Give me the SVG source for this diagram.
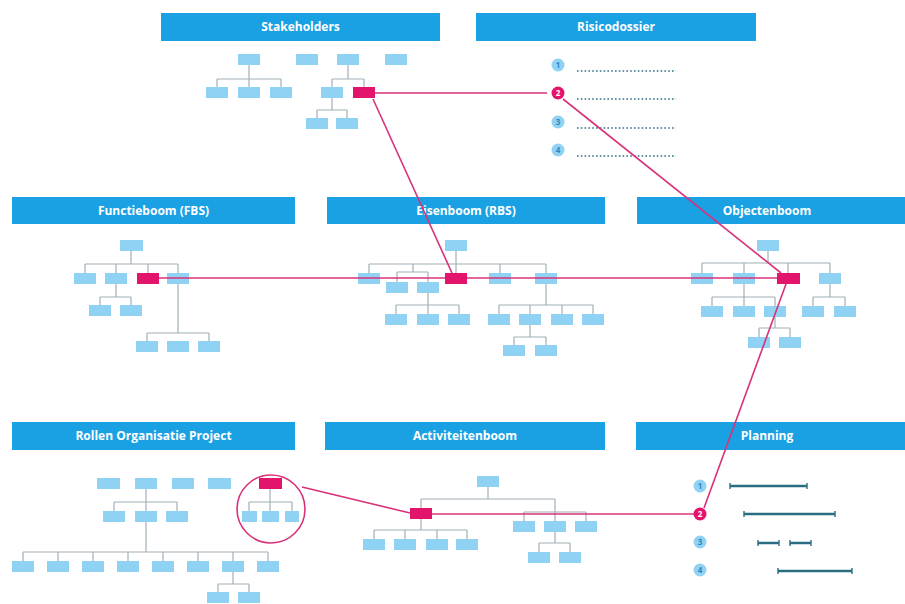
<svg xmlns="http://www.w3.org/2000/svg" width="905" height="604" viewBox="0 0 905 604">
  <defs>
    <style>
      .hdr { fill: #1aa1e4; }
      .hdr-t { fill: #ffffff; font-family: "Open Sans", "Liberation Sans", sans-serif; font-weight: bold; font-size: 12px; text-anchor: middle; }
      .b { fill: #8fd2f3; }
      .p { fill: #e2146c; }
      .tr { stroke: #9fb0b8; stroke-width: 1.2; fill: none; }
      .lnk { stroke: #d8327a; stroke-width: 1.6; fill: none; }
      .dot { stroke: #2f7088; stroke-width: 1.6; stroke-dasharray: 1.6 2.2; fill: none; }
      .bar { stroke: #2c6c82; stroke-width: 2.6; fill: none; }
      .tick { stroke: #2c6c82; stroke-width: 1.4; fill: none; }
      .c { fill: #8fd2f3; }
      .cp { fill: #e2146c; }
      .n { font-family: "Open Sans", "Liberation Sans", sans-serif; font-weight: bold; font-size: 8px; text-anchor: middle; fill: #2f86be; }
      .np { fill: #ffffff; }
    </style>
  </defs>
  <rect width="905" height="604" fill="#ffffff"/>

  <!-- Stakeholders -->
  <g id="stakeholders">
    <rect class="hdr" x="161" y="13" width="279" height="28"/>
    <text class="hdr-t" x="300.5" y="31">Stakeholders</text>
    <path class="tr" d="M249 65V79M217 79H281M217 79V87M249 79V87M281 79V87M348 65V79M332 79H364M332 79V87M364 79V87M332 98V110M317 110H347M317 110V118M347 110V118"/>
    <rect class="b" x="238" y="54" width="22" height="11"/>
    <rect class="b" x="296" y="54" width="22" height="11"/>
    <rect class="b" x="337" y="54" width="22" height="11"/>
    <rect class="b" x="385" y="54" width="22" height="11"/>
    <rect class="b" x="206" y="87" width="22" height="11"/>
    <rect class="b" x="238" y="87" width="22" height="11"/>
    <rect class="b" x="270" y="87" width="22" height="11"/>
    <rect class="b" x="321" y="87" width="22" height="11"/>
    <rect class="p" x="353" y="87" width="22" height="11"/>
    <rect class="b" x="306" y="118" width="22" height="11"/>
    <rect class="b" x="336" y="118" width="22" height="11"/>
  </g>

  <!-- Risicodossier -->
  <g id="risicodossier">
    <rect class="hdr" x="476" y="13" width="280" height="28"/>
    <text class="hdr-t" x="616" y="31">Risicodossier</text>
    <circle class="c" cx="558" cy="65" r="6.5"/>
    <text class="n" x="558" y="68">1</text>
    <circle class="cp" cx="558" cy="93" r="6.5"/>
    <text class="n np" x="558" y="96">2</text>
    <circle class="c" cx="558" cy="122" r="6.5"/>
    <text class="n" x="558" y="125">3</text>
    <circle class="c" cx="558" cy="150" r="6.5"/>
    <text class="n" x="558" y="153">4</text>
    <path class="dot" d="M577 71H676M577 99H676M577 128H676M577 156H676"/>
  </g>

  <!-- Functieboom (FBS) -->
  <g id="functieboom">
    <rect class="hdr" x="12" y="197" width="283" height="27"/>
    <text class="hdr-t" x="153.5" y="215">Functieboom (FBS)</text>
    <path class="tr" d="M131 251V264M85 264H178M85 264V273M116 264V273M148 264V273M178 264V273M116 284V297M100 297H131M100 297V305M131 297V305M178 284V333M147 333H209M147 333V341M209 333V341"/>
    <rect class="b" x="120" y="240" width="23" height="11"/>
    <rect class="b" x="74" y="273" width="22" height="11"/>
    <rect class="b" x="105" y="273" width="22" height="11"/>
    <rect class="p" x="137" y="273" width="22" height="11"/>
    <rect class="b" x="167" y="273" width="22" height="11"/>
    <rect class="b" x="89" y="305" width="22" height="11"/>
    <rect class="b" x="120" y="305" width="22" height="11"/>
    <rect class="b" x="136" y="341" width="22" height="11"/>
    <rect class="b" x="167" y="341" width="22" height="11"/>
    <rect class="b" x="198" y="341" width="22" height="11"/>
  </g>

  <!-- Eisenboom (RBS) -->
  <g id="eisenboom">
    <rect class="hdr" x="327" y="197" width="278" height="27"/>
    <text class="hdr-t" x="466" y="215">Eisenboom (RBS)</text>
    <path class="tr" d="M456 251V264M369 264H546M369 264V273M456 264V273M500 264V273M546 264V273M413 264V272M397 272H428M397 272V282M428 272V282M428 293V305M396 305H459M396 305V314M428 305V314M459 305V314M546 284V305M499 305H593M499 305V314M530 305V314M562 305V314M593 305V314M530 325V337M514 337H546M514 337V345M546 337V345"/>
    <rect class="b" x="445" y="240" width="22" height="11"/>
    <rect class="b" x="358" y="273" width="22" height="11"/>
    <rect class="p" x="445" y="273" width="22" height="11"/>
    <rect class="b" x="489" y="273" width="22" height="11"/>
    <rect class="b" x="535" y="273" width="22" height="11"/>
    <rect class="b" x="386" y="282" width="22" height="11"/>
    <rect class="b" x="417" y="282" width="22" height="11"/>
    <rect class="b" x="385" y="314" width="22" height="11"/>
    <rect class="b" x="417" y="314" width="22" height="11"/>
    <rect class="b" x="448" y="314" width="22" height="11"/>
    <rect class="b" x="488" y="314" width="22" height="11"/>
    <rect class="b" x="519" y="314" width="22" height="11"/>
    <rect class="b" x="551" y="314" width="22" height="11"/>
    <rect class="b" x="582" y="314" width="22" height="11"/>
    <rect class="b" x="503" y="345" width="22" height="11"/>
    <rect class="b" x="535" y="345" width="22" height="11"/>
  </g>

  <!-- Objectenboom -->
  <g id="objectenboom">
    <rect class="hdr" x="637" y="197" width="268" height="27"/>
    <text class="hdr-t" x="767" y="215">Objectenboom</text>
    <path class="tr" d="M768 251V263M702 263H830M702 263V273M744 263V273M788 263V273M830 263V273M744 284V297M712 297H775M712 297V306M744 297V306M775 297V306M830 284V297M813 297H845M813 297V306M845 297V306M775 317V328M759 328H790M759 328V337M790 328V337"/>
    <rect class="b" x="757" y="240" width="22" height="11"/>
    <rect class="b" x="691" y="273" width="22" height="11"/>
    <rect class="b" x="733" y="273" width="22" height="11"/>
    <rect class="p" x="777" y="273" width="23" height="11"/>
    <rect class="b" x="819" y="273" width="22" height="11"/>
    <rect class="b" x="701" y="306" width="22" height="11"/>
    <rect class="b" x="733" y="306" width="22" height="11"/>
    <rect class="b" x="764" y="306" width="22" height="11"/>
    <rect class="b" x="802" y="306" width="22" height="11"/>
    <rect class="b" x="834" y="306" width="22" height="11"/>
    <rect class="b" x="748" y="337" width="22" height="11"/>
    <rect class="b" x="779" y="337" width="22" height="11"/>
  </g>

  <!-- Rollen Organisatie Project -->
  <g id="rollen">
    <rect class="hdr" x="12" y="422" width="283" height="28"/>
    <text class="hdr-t" x="153.5" y="440">Rollen Organisatie Project</text>
    <path class="tr" d="M146 489V502M114 502H177M114 502V511M146 502V511M177 502V511M146 522V552M23 552H268M23 552V561M58 552V561M93 552V561M128 552V561M163 552V561M198 552V561M233 552V561M268 552V561M233 572V584M218 584H249M218 584V592M249 584V592"/>
    <rect class="b" x="97" y="478" width="23" height="11"/>
    <rect class="b" x="135" y="478" width="22" height="11"/>
    <rect class="b" x="172" y="478" width="22" height="11"/>
    <rect class="b" x="208" y="478" width="23" height="11"/>
    <rect class="b" x="103" y="511" width="22" height="11"/>
    <rect class="b" x="135" y="511" width="22" height="11"/>
    <rect class="b" x="166" y="511" width="22" height="11"/>
    <rect class="b" x="12" y="561" width="22" height="11"/>
    <rect class="b" x="47" y="561" width="22" height="11"/>
    <rect class="b" x="82" y="561" width="22" height="11"/>
    <rect class="b" x="117" y="561" width="22" height="11"/>
    <rect class="b" x="152" y="561" width="22" height="11"/>
    <rect class="b" x="187" y="561" width="22" height="11"/>
    <rect class="b" x="222" y="561" width="22" height="11"/>
    <rect class="b" x="257" y="561" width="22" height="11"/>
    <rect class="b" x="207" y="592" width="22" height="11"/>
    <rect class="b" x="238" y="592" width="22" height="11"/>
    <!-- highlighted sub-team -->
    <path class="tr" d="M270 489V502M249 502H292M249 502V511M270 502V511M292 502V511"/>
    <rect class="p" x="259" y="478" width="23" height="11"/>
    <rect class="b" x="242" y="511" width="15" height="11"/>
    <rect class="b" x="262" y="511" width="17" height="11"/>
    <rect class="b" x="285" y="511" width="14" height="11"/>
    <circle cx="271" cy="509" r="34" fill="none" stroke="#d8327a" stroke-width="1.6"/>
  </g>

  <!-- Activiteitenboom -->
  <g id="activiteitenboom">
    <rect class="hdr" x="325" y="422" width="280" height="28"/>
    <text class="hdr-t" x="465" y="440">Activiteitenboom</text>
    <path class="tr" d="M488 487V499M421 499H555M421 499V508M555 499V521M524 512H586M524 512V521M586 512V521M421 519V530M374 530H467M374 530V539M405 530V539M437 530V539M467 530V539M555 532V543M539 543H570M539 543V552M570 543V552"/>
    <rect class="b" x="477" y="476" width="22" height="11"/>
    <rect class="p" x="410" y="508" width="22" height="11"/>
    <rect class="b" x="513" y="521" width="22" height="11"/>
    <rect class="b" x="544" y="521" width="22" height="11"/>
    <rect class="b" x="575" y="521" width="22" height="11"/>
    <rect class="b" x="363" y="539" width="22" height="11"/>
    <rect class="b" x="394" y="539" width="22" height="11"/>
    <rect class="b" x="426" y="539" width="22" height="11"/>
    <rect class="b" x="456" y="539" width="22" height="11"/>
    <rect class="b" x="528" y="552" width="22" height="11"/>
    <rect class="b" x="559" y="552" width="22" height="11"/>
  </g>

  <!-- Planning -->
  <g id="planning">
    <rect class="hdr" x="636" y="422" width="269" height="28"/>
    <text class="hdr-t" x="767" y="440">Planning</text>
    <circle class="c" cx="700" cy="486" r="6.5"/>
    <text class="n" x="700" y="489">1</text>
    <circle class="cp" cx="700" cy="514" r="6.5"/>
    <text class="n np" x="700" y="517">2</text>
    <circle class="c" cx="700" cy="542" r="6.5"/>
    <text class="n" x="700" y="545">3</text>
    <circle class="c" cx="700" cy="570" r="6.5"/>
    <text class="n" x="700" y="573">4</text>
    <path class="bar" d="M730 486H807M744 514H835M758 543H779M790 543H811M778 571H852"/>
    <path class="tick" d="M730 483V489M807 483V489M744 511V517M835 511V517M758 540V546M779 540V546M790 540V546M811 540V546M778 568V574M852 568V574"/>
  </g>

  <!-- Cross-links between the highlighted items -->
  <g id="connectors">
    <path class="lnk" d="M375 93H547"/>
    <path class="lnk" d="M373 99L452 273"/>
    <path class="lnk" d="M563 99L781 273"/>
    <path class="lnk" d="M159 278H445"/>
    <path class="lnk" d="M467 278H777"/>
    <path class="lnk" d="M786 284L704 508"/>
    <path class="lnk" d="M302 487L410 513"/>
    <path class="lnk" d="M432 514H694"/>
  </g>
</svg>
